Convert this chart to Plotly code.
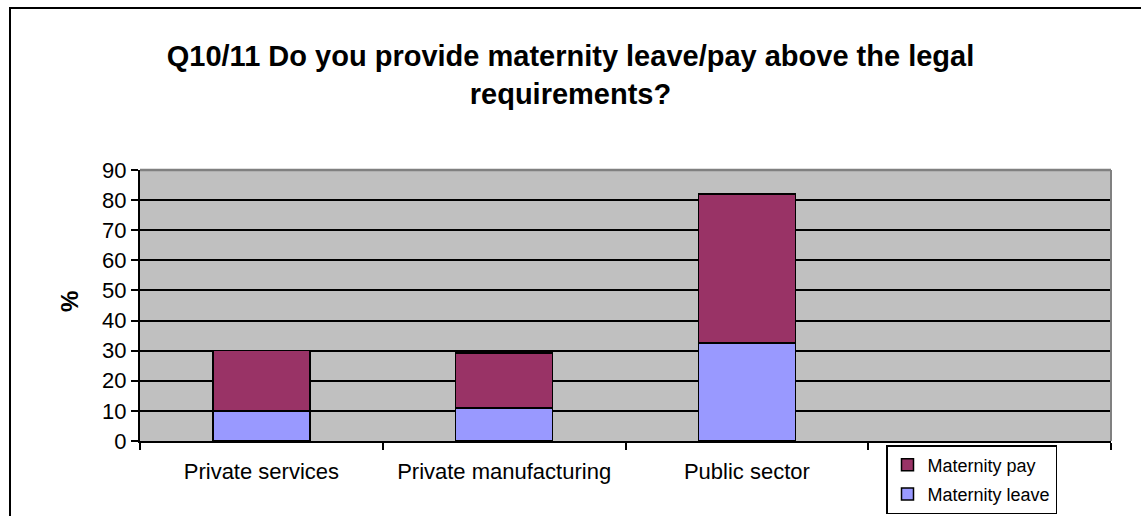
import plotly.graph_objects as go

# Survey answers by sector (percent of respondents)
categories = ["Private services", "Private manufacturing", "Public sector", " "]
maternity_leave = [10, 11, 32.5, None]
maternity_pay = [20, 18.3, 49.5, None]
y_ticks = [0, 10, 20, 30, 40, 50, 60, 70, 80, 90]

FONT = "Arial, Liberation Sans, sans-serif"

fig = go.Figure()
fig.add_trace(go.Bar(
    x=categories, y=maternity_leave, name="Maternity leave",
    marker=dict(color="#9999FF", line=dict(color="black", width=1.5)),
    width=0.4, legendgroup="leave", legendrank=2,
))
fig.add_trace(go.Bar(
    x=categories, y=maternity_pay, name="Maternity pay",
    marker=dict(color="#993366", line=dict(color="black", width=1.5)),
    width=0.4, legendgroup="pay", legendrank=1,
))

# pixel helpers for placing things relative to the plot area
L, R, T, B = 140, 30, 170, 75
W, H = 1141, 516
pw, ph = W - L - R, H - T - B
def px_x(v):
    return (v - L) / pw
def px_y(v):
    return (H - B - v) / ph

# outer chart frame
fig.add_shape(type="rect", xref="paper", yref="paper",
              x0=px_x(10), x1=px_x(1145), y0=px_y(530), y1=px_y(8),
              line=dict(color="black", width=2), layer="above")
# plot-area border on top and right
fig.add_shape(type="line", xref="paper", yref="paper", x0=0, x1=1, y0=1, y1=1,
              line=dict(color="#808080", width=2.5), layer="above")
fig.add_shape(type="line", xref="paper", yref="paper", x0=1, x1=1, y0=0, y1=1,
              line=dict(color="#808080", width=2), layer="above")

fig.add_annotation(text="<b>%</b>", xref="paper", yref="paper",
                   x=px_x(69), y=px_y(302), xanchor="center", yanchor="middle",
                   showarrow=False, textangle=-90,
                   font=dict(family=FONT, size=24, color="black"))

fig.update_layout(
    width=W, height=H,
    barmode="stack",
    paper_bgcolor="white",
    plot_bgcolor="#C0C0C0",
    margin=dict(l=L, r=R, t=T, b=B, autoexpand=False),
    font=dict(family=FONT, color="black"),
    title=dict(
        text="<b>Q10/11 Do you provide maternity leave/pay above the legal<br>requirements?</b>",
        x=0.5, xanchor="center", y=1 - 66 / H, yanchor="middle",
        font=dict(family=FONT, size=29, color="black"),
    ),
    legend=dict(
        x=px_x(886), y=px_y(445), xanchor="left", yanchor="top",
        bgcolor="white", bordercolor="black", borderwidth=1.5,
        font=dict(family=FONT, size=18, color="black"),
        traceorder="grouped", tracegroupgap=3,
    ),
    xaxis=dict(
        type="category", categoryorder="array", categoryarray=categories,
        range=[-0.5, 3.5], tickson="boundaries",
        ticks="outside", ticklen=7, tickwidth=1.5, tickcolor="black",
        showline=True, linecolor="black", linewidth=2,
        showgrid=False, ticklabelstandoff=10,
        tickfont=dict(family=FONT, size=22, color="black"),
    ),
    yaxis=dict(
        range=[0, 90], tickvals=y_ticks,
        ticks="outside", ticklen=7, tickwidth=1.5, tickcolor="black",
        showline=True, linecolor="black", linewidth=2,
        showgrid=True, gridcolor="black", gridwidth=1.5,
        zeroline=False,
        tickfont=dict(family=FONT, size=22, color="black"),
    ),
)

fig.write_html("out.html")
